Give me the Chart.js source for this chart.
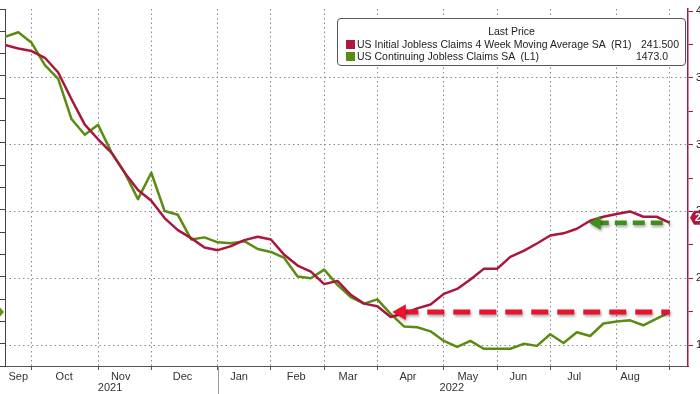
<!DOCTYPE html>
<html>
<head>
<meta charset="utf-8">
<script src="https://cdn.jsdelivr.net/npm/chart.js@4.4.1/dist/chart.umd.min.js"></script>
<style>
  html, body { margin: 0; padding: 0; background: #fff; overflow: hidden; }
  body { width: 700px; height: 394px; position: relative; }
  /* canvas is wider than the window so the axis labels get cut off like the original */
  #wrap { position: absolute; left: -50px; top: 0; width: 788px; height: 394px; }
  #legend {
    position: absolute; left: 337px; top: 18px; width: 349px; height: 48px;
    box-sizing: border-box; border: 1px solid #555; border-radius: 4px; background: #fff;
    font: 10.5px "Liberation Sans", Arial, sans-serif; color: #222; line-height: 13px;
  }
  #legend .title { position: absolute; top: 6px; left: 0; right: 0; text-align: center; }
  #legend .row { position: absolute; left: 8px; right: 0; height: 13px; }
  #legend .sq { position: absolute; left: 0; top: 2px; width: 9px; height: 9px; }
  #legend .name { position: absolute; left: 11px; white-space: pre; }
  #legend .val { position: absolute; white-space: pre; }
</style>
</head>
<body>
<div id="wrap"><canvas id="chart"></canvas></div>
<div id="legend">
  <div class="title">Last Price</div>
  <div class="row" style="top:19px">
    <span class="sq" style="background:#b0173f"></span>
    <span class="name">US Initial Jobless Claims 4 Week Moving Average SA  (R1)</span>
    <span class="val" style="right:6px">241.500</span>
  </div>
  <div class="row" style="top:31px">
    <span class="sq" style="background:#5b8c12"></span>
    <span class="name">US Continuing Jobless Claims SA  (L1)</span>
    <span class="val" style="right:17px">1473.0</span>
  </div>
</div>
<script>
// weekly points, Sep 2021 -> Aug 2022 (x = week index)
const initialClaims4wk = [
  374.5, 372, 370, 365, 354, 334, 315, 304, 294, 279,
  266, 258, 245, 236, 230, 223, 221, 224, 228.5, 231,
  229, 217.5, 209.5, 205, 195.6, 198, 187.6, 181, 179, 171,
  173.7, 177.4, 180.3, 188.3, 192, 199, 207, 207, 216, 220.4,
  226, 232, 233.6, 237, 243, 246, 248, 250, 246, 246,
  241.5
]
const continuingClaims = [
  2704, 2724, 2677, 2577, 2516, 2336, 2266, 2310, 2188, 2096,
  1978, 2096, 1925, 1908, 1798, 1807, 1785, 1781, 1790, 1755,
  1742, 1715, 1632, 1624, 1663, 1595, 1540, 1511, 1530, 1465,
  1409, 1405, 1387, 1344, 1317, 1344, 1309, 1309, 1309, 1331,
  1322, 1374, 1335, 1383, 1366, 1422, 1431, 1436, 1414, 1444,
  1473
]
const lastInitial = 241.5
const lastContinuing = 1473.0

// x axis: month boundaries (week index of the first week of each month)
const monthBoundaries = [2, 7, 11, 16, 20, 24, 28, 33, 37, 41, 46, 50]
const monthNames = ['Sep', 'Oct', 'Nov', 'Dec', 'Jan', 'Feb', 'Mar', 'Apr', 'May', 'Jun', 'Jul', 'Aug']
const monthLabelPos = [1.0, 4.45, 8.7, 13.35, 17.6, 21.9, 25.8, 30.3, 34.8, 38.6, 42.8, 47.0]
const yearNames = ['2021', '2022']
const yearLabelPos = [7.9, 33.6]
const yearSplit = 16

// arrows (start index of the arrow head)
const redArrowFrom = 29.8
const greenArrowFrom = 44.5
const arrowTo = 50

const RED = '#a8173d'
const GREEN = '#5b8c12'
const FONT = { family: '"Liberation Sans", Arial, sans-serif', size: 11, lineHeight: 1.05 }

const xLabelMap = new Map()
monthBoundaries.forEach(v => xLabelMap.set(v, ''))
monthLabelPos.forEach((v, i) => xLabelMap.set(v, monthNames[i]))
yearLabelPos.forEach((v, i) => xLabelMap.set(v, ['', yearNames[i]]))
const xTickValues = [...xLabelMap.keys()].sort((a, b) => a - b)
const isBoundary = t => t && monthBoundaries.includes(t.value)

const toPoints = arr => arr.map((v, i) => ({ x: i, y: v }))

// arrow shadows, last-price tags, year separator
const extras = {
  id: 'extras',
  beforeDatasetDraw(chart, args) {
    if (chart.data.datasets[args.index].isArrow) {
      const c = chart.ctx
      c.save()
      c.shadowColor = 'rgba(0,0,0,0.35)'
      c.shadowBlur = 3
      c.shadowOffsetX = 1
      c.shadowOffsetY = 2
    }
  },
  afterDatasetDraw(chart, args) {
    if (chart.data.datasets[args.index].isArrow) chart.ctx.restore()
  },
  afterDraw(chart) {
    const c = chart.ctx
    const area = chart.chartArea
    const sx = chart.scales.x
    c.save()
    // year separator
    const xs = Math.round(sx.getPixelForValue(yearSplit)) + 0.5
    c.strokeStyle = '#9a9a9a'
    c.lineWidth = 1
    c.beginPath()
    c.moveTo(xs, area.bottom)
    c.lineTo(xs, chart.height)
    c.stroke()

    // right tag
    let y = chart.scales.y1.getPixelForValue(lastInitial) - 5
    let x0 = area.right + 2
    c.fillStyle = '#b0173f'
    c.beginPath()
    c.moveTo(x0, y)
    c.lineTo(x0 + 4, y - 7)
    c.lineTo(x0 + 46, y - 7)
    c.lineTo(x0 + 50, y)
    c.lineTo(x0 + 46, y + 7)
    c.lineTo(x0 + 4, y + 7)
    c.closePath()
    c.fill()
    c.fillStyle = '#fff'
    c.font = 'bold 10px "Liberation Sans", Arial, sans-serif'
    c.textBaseline = 'middle'
    c.textAlign = 'left'
    c.fillText(lastInitial.toFixed(3), x0 + 5, y + 0.5)

    // left tag
    y = chart.scales.y.getPixelForValue(lastContinuing)
    x0 = area.left - 1
    c.fillStyle = '#5f9a17'
    c.beginPath()
    c.moveTo(x0, y)
    c.lineTo(x0 - 6, y - 7)
    c.lineTo(x0 - 50, y - 7)
    c.lineTo(x0 - 50, y + 7)
    c.lineTo(x0 - 6, y + 7)
    c.closePath()
    c.fill()
    c.fillStyle = '#fff'
    c.textAlign = 'right'
    c.fillText(lastContinuing.toFixed(1), x0 - 6, y + 0.5)
    c.restore()
  }
}

new Chart(document.getElementById('chart'), {
  type: 'line',
  data: {
    datasets: [
      {
        isArrow: true,
        data: [{ x: redArrowFrom, y: lastContinuing }, { x: arrowTo, y: lastContinuing }],
        yAxisID: 'y',
        borderColor: '#e8132c',
        backgroundColor: '#e8132c',
        borderWidth: 5,
        borderDash: [17, 9],
        borderCapStyle: 'butt',
        pointStyle: 'triangle',
        rotation: -90,
        pointRadius: [9, 0],
        pointBorderWidth: 0
      },
      {
        isArrow: true,
        data: [{ x: greenArrowFrom, y: lastInitial }, { x: arrowTo, y: lastInitial }],
        yAxisID: 'y1',
        borderColor: '#3f8f1c',
        backgroundColor: '#3f8f1c',
        borderWidth: 4.5,
        borderDash: [12, 6],
        borderCapStyle: 'butt',
        pointStyle: 'triangle',
        rotation: -90,
        pointRadius: [8, 0],
        pointBorderWidth: 0
      },
      {
        label: 'US Initial Jobless Claims 4 Week Moving Average SA (R1)',
        data: toPoints(initialClaims4wk),
        yAxisID: 'y1',
        borderColor: RED,
        borderWidth: 2.5,
        pointRadius: 0,
        tension: 0,
        borderJoinStyle: 'round'
      },
      {
        label: 'US Continuing Jobless Claims SA (L1)',
        data: toPoints(continuingClaims),
        yAxisID: 'y',
        borderColor: GREEN,
        borderWidth: 2.5,
        pointRadius: 0,
        tension: 0,
        borderJoinStyle: 'round'
      }
    ]
  },
  options: {
    responsive: true,
    maintainAspectRatio: false,
    animation: false,
    events: [],
    layout: { padding: 0 },
    plugins: {
      legend: { display: false },
      tooltip: { enabled: false }
    },
    scales: {
      x: {
        type: 'linear',
        min: 0,
        max: 51.36,
        afterBuildTicks: s => { s.ticks = xTickValues.map(v => ({ value: v })) },
        afterFit: s => { s.height = 28; s.paddingLeft = 0; s.paddingRight = 0 },
        grid: {
          color: c => isBoundary(c.tick) ? '#8a8a8a' : 'rgba(0,0,0,0)',
          tickColor: c => isBoundary(c.tick) ? '#555' : 'rgba(0,0,0,0)',
          tickLength: 4,
          tickBorderDash: [],
          lineWidth: 1
        },
        border: { color: '#555', width: 1, dash: [1.5, 3] },
        ticks: {
          autoSkip: false,
          maxRotation: 0,
          minRotation: 0,
          padding: 1,
          color: '#333',
          font: FONT,
          callback: v => xLabelMap.has(v) ? xLabelMap.get(v) : ''
        }
      },
      y: {
        type: 'linear',
        position: 'left',
        min: 1232,
        max: 2828,
        afterFit: s => { s.width = 55; s.paddingTop = 0; s.paddingBottom = 0 },
        grid: { drawOnChartArea: false, tickColor: '#444', tickLength: 5 },
        border: { color: '#444', width: 1 },
        ticks: { stepSize: 100, includeBounds: false, padding: 3, color: '#222', font: FONT }
      },
      y1: {
        type: 'linear',
        position: 'right',
        min: 134.3,
        max: 401.5,
        afterFit: s => { s.width = 50; s.paddingTop = 0; s.paddingBottom = 0 },
        grid: {
          color: c => (c.tick && c.tick.value % 50 === 0 && c.tick.value < 400) ? '#8a8a8a' : 'rgba(0,0,0,0)',
          tickColor: RED,
          tickLength: 5,
          tickBorderDash: [],
          lineWidth: 1
        },
        border: { color: RED, width: 1.5, dash: [1.5, 3] },
        ticks: {
          stepSize: 25,
          includeBounds: false,
          padding: 3,
          color: '#222',
          font: FONT,
          callback: v => v % 50 === 0 ? String(v) : ''
        }
      }
    }
  },
  plugins: [extras]
})
</script>
</body>
</html>
